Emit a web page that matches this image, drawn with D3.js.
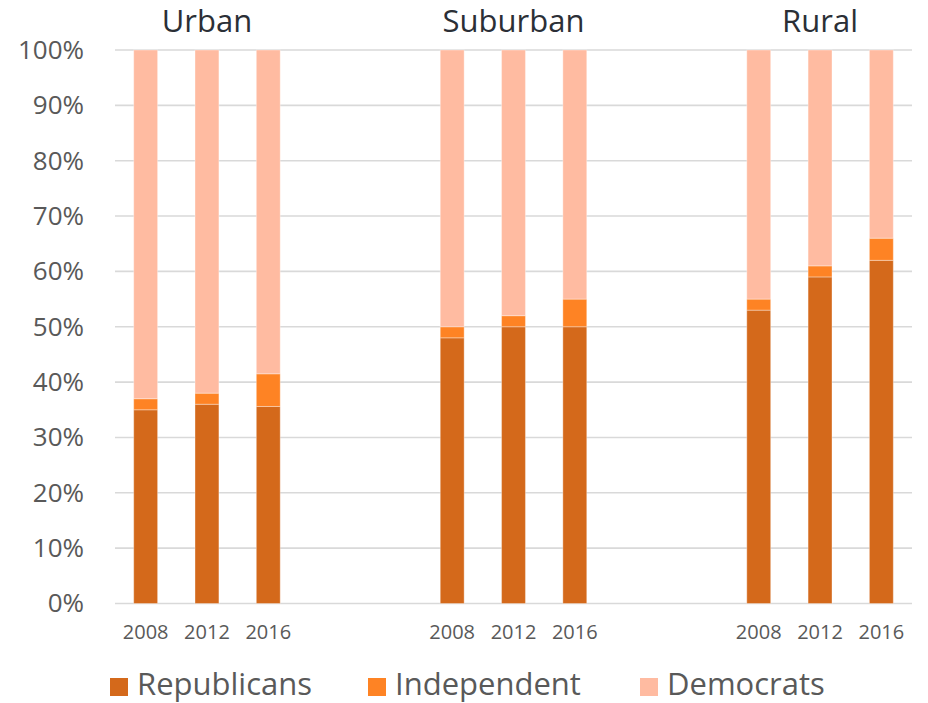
<!DOCTYPE html>
<html>
<head>
<meta charset="utf-8">
<script src="https://cdn.jsdelivr.net/npm/d3@7"></script>
<style>
  body { margin: 0; background: #fff; }
  svg { display: block; font-family: "Open Sans", sans-serif; }
</style>
</head>
<body>
<svg width="928" height="703"></svg>
<script>
// values (percent of voters)
var groups = ["Urban", "Suburban", "Rural"];
var years = ["2008", "2012", "2016"];
var republicans = [35, 36, 35.6, 48, 50, 50, 53, 59, 62];
var independent = [2, 2, 5.9, 2, 2, 5, 2, 2, 4];
var democrats = [63, 62, 58.5, 50, 48, 45, 45, 39, 34];
var yTicks = [0, 10, 20, 30, 40, 50, 60, 70, 80, 90, 100];
var seriesNames = ["Republicans", "Independent", "Democrats"];
var colors = ["#d4691b", "#fe8324", "#ffbba1"];

var svg = d3.select("svg"),
    margin = {top: 50, right: 16, bottom: 99.5, left: 115},
    width = +svg.attr("width") - margin.left - margin.right,
    height = +svg.attr("height") - margin.top - margin.bottom;

// one row per bar
var data = [];
groups.forEach(function(g, gi) {
  years.forEach(function(yr, yi) {
    var i = gi * years.length + yi;
    data.push({key: g + " " + yr, group: g, year: yr,
      Republicans: republicans[i], Independent: independent[i], Democrats: democrats[i]});
  });
});

// slot domain: three bars per group, two empty slots between groups
var slots = [];
groups.forEach(function(g, gi) {
  years.forEach(function(yr) { slots.push(g + " " + yr); });
  if (gi < groups.length - 1) { slots.push("gap" + gi + "a"); slots.push("gap" + gi + "b"); }
});

var x = d3.scaleBand().domain(slots).range([0, width]).paddingInner(0.61).paddingOuter(0.305);
var y = d3.scaleLinear().domain([0, 100]).range([height, 0]);
var color = d3.scaleOrdinal().domain(seriesNames).range(colors);

var g = svg.append("g").attr("transform", "translate(" + margin.left + "," + margin.top + ")");

// gridlines
g.append("g")
  .selectAll("line")
  .data(yTicks)
  .enter().append("line")
  .attr("x1", 0).attr("x2", width)
  .attr("y1", function(d) { return y(d); })
  .attr("y2", function(d) { return y(d); })
  .attr("stroke", "#d9d9d9")
  .attr("stroke-width", 1.6);

// y axis
var yAxis = g.append("g")
  .call(d3.axisLeft(y).tickValues(yTicks).tickSize(0).tickPadding(31).tickFormat(function(d) { return d + "%"; }));
yAxis.select(".domain").remove();
yAxis.selectAll("text")
  .attr("fill", "#595959")
  .style("font-family", "'Open Sans', sans-serif")
  .style("font-size", "26px");

// x axis (years)
var xAxis = g.append("g")
  .attr("transform", "translate(0," + height + ")")
  .call(d3.axisBottom(x).tickValues(data.map(function(d) { return d.key; }))
    .tickSize(0).tickPadding(21)
    .tickFormat(function(k) { return k.split(" ")[1]; }));
xAxis.select(".domain").remove();
xAxis.selectAll("text")
  .attr("fill", "#595959")
  .style("font-family", "'Open Sans', sans-serif")
  .style("font-size", "20px");

// stacked bars
var stacked = d3.stack().keys(seriesNames)(data);
g.selectAll(".series")
  .data(stacked)
  .enter().append("g")
  .attr("class", "series")
  .attr("fill", function(d) { return color(d.key); })
  .selectAll("rect")
  .data(function(d) { return d; })
  .enter().append("rect")
  .attr("x", function(d) { return x(d.data.key); })
  .attr("y", function(d) { return y(d[1]); })
  .attr("width", x.bandwidth())
  .attr("height", function(d) { return y(d[0]) - y(d[1]); })
  .attr("stroke", "#ffffff")
  .attr("stroke-opacity", 0.35)
  .attr("stroke-width", 1);

// group titles above the middle bar
g.selectAll(".group-title")
  .data(groups)
  .enter().append("text")
  .attr("class", "group-title")
  .attr("x", function(d) { return x(d + " " + years[1]) + x.bandwidth() / 2; })
  .attr("y", -18)
  .attr("text-anchor", "middle")
  .attr("fill", "#2b2f36")
  .style("font-size", "31px")
  .text(function(d) { return d; });

// legend
var legendX = [110, 368, 640];
var legend = svg.append("g").selectAll("g")
  .data(seriesNames)
  .enter().append("g")
  .attr("transform", function(d, i) { return "translate(" + legendX[i] + ",678)"; });
legend.append("rect")
  .attr("width", 18).attr("height", 18)
  .attr("fill", function(d) { return color(d); });
legend.append("text")
  .attr("x", 27).attr("y", 17)
  .attr("fill", "#595959")
  .style("font-size", "31px")
  .text(function(d) { return d; });
</script>
</body>
</html>
